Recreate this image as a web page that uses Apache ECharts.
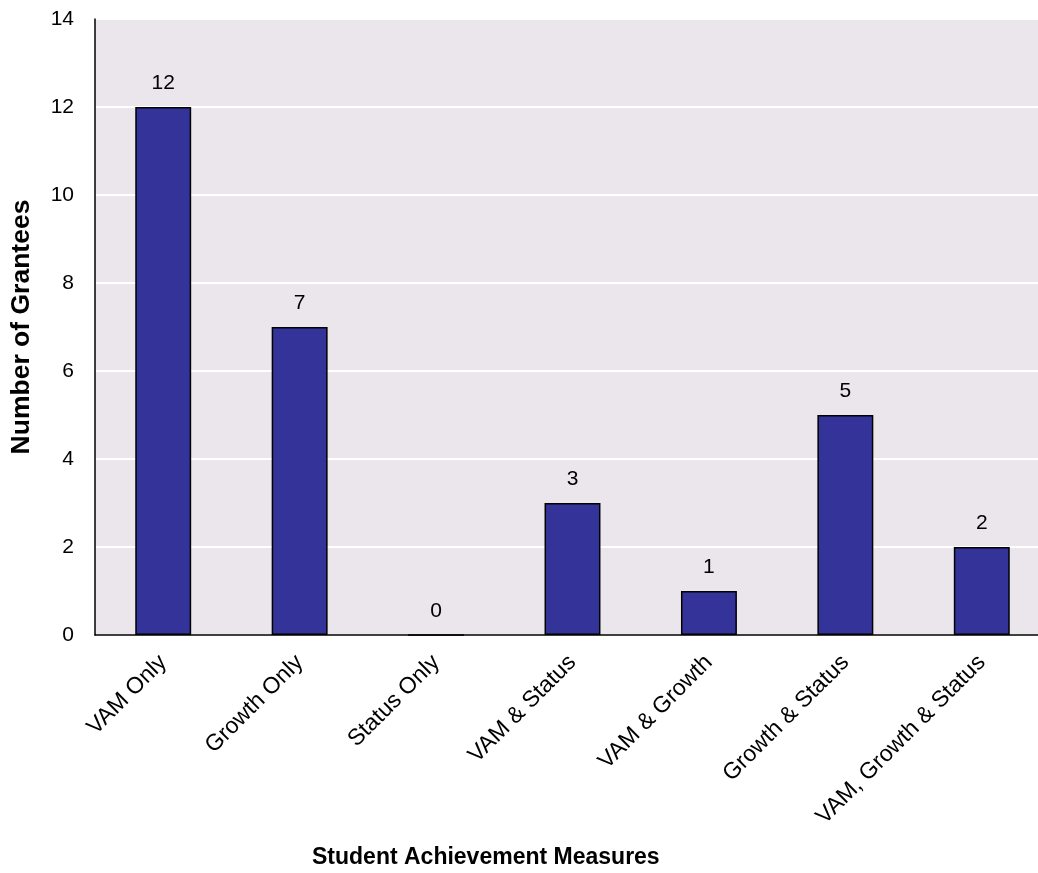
<!DOCTYPE html>
<html>
<head>
<meta charset="utf-8">
<script src="https://cdn.jsdelivr.net/npm/echarts@6/dist/echarts.min.js"></script>
<style>
html,body{margin:0;padding:0;background:#fff;overflow:hidden;width:1038px;height:873px;}
#chart{width:1050px;height:873px;}
</style>
</head>
<body>
<div id="chart"></div>
<script>
var categories = ["VAM Only", "Growth Only", "Status Only", "VAM & Status", "VAM & Growth", "Growth & Status", "VAM, Growth & Status"];
var values = [12, 7, 0, 3, 1, 5, 2];
var yTicks = {min: 0, max: 14, interval: 2};
var yTitle = "Number of Grantees";
var xTitle = "Student Achievement Measures";

var chart = echarts.init(document.getElementById('chart'), null, {renderer: 'canvas'});
var font = "Liberation Sans, Arial, sans-serif";
chart.setOption({
  animation: false,
  backgroundColor: '#ffffff',
  textStyle: {fontFamily: font},
  grid: {
    left: 93, top: 19, width: 957, height: 616,
    show: true, backgroundColor: '#EBE6EB', borderWidth: 0,
    containLabel: false
  },
  xAxis: {
    type: 'category',
    data: categories,
    axisLine: {show: true, lineStyle: {color: '#000', width: 1.5}},
    axisTick: {show: false},
    axisLabel: {rotate: 45, fontSize: 23, color: '#000', margin: 24, fontFamily: font, interval: 0},
    splitLine: {show: false}
  },
  yAxis: {
    type: 'value',
    min: yTicks.min, max: yTicks.max, interval: yTicks.interval,
    name: yTitle,
    nameLocation: 'middle',
    nameGap: 60,
    nameTextStyle: {fontSize: 26.5, fontWeight: 'bold', color: '#000', fontFamily: font},
    axisLine: {show: true, lineStyle: {color: '#000', width: 1.5}},
    axisTick: {show: false},
    axisLabel: {fontSize: 21, color: '#000', margin: 21, fontFamily: font},
    splitLine: {show: true, lineStyle: {color: '#ffffff', width: 2}}
  },
  graphic: [{
    type: 'text',
    left: 487 - 175, top: 846,
    style: {text: xTitle, fontSize: 23, fontWeight: 'bold', fill: '#000', fontFamily: font}
  }],
  series: [{
    type: 'bar',
    data: values,
    barWidth: '41%',
    itemStyle: {color: '#333399', borderColor: '#000', borderWidth: 1.5},
    label: {show: true, position: 'top', distance: 13, fontSize: 21, color: '#000', fontFamily: font}
  }]
});
</script>
</body>
</html>
